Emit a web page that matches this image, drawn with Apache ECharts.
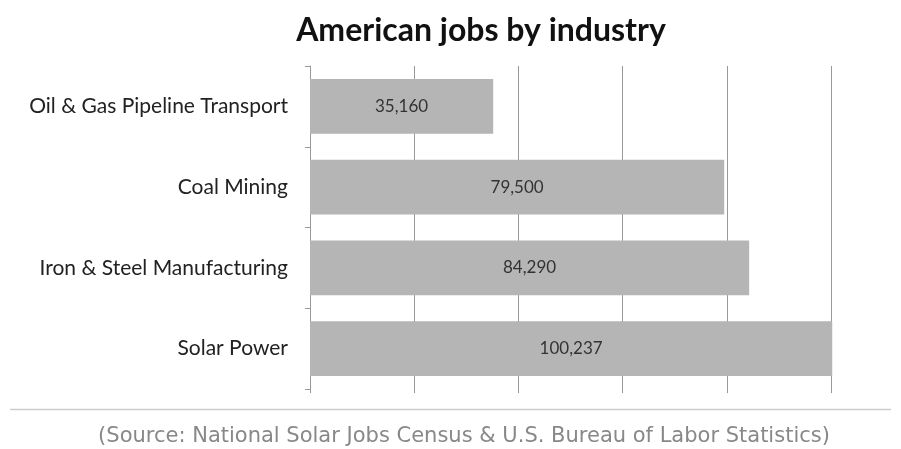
<!DOCTYPE html>
<html>
<head>
<meta charset="utf-8">
<script src="https://cdn.jsdelivr.net/npm/echarts@6/dist/echarts.min.js"></script>
<style>html,body{margin:0;padding:0;background:#fff;}#c{width:901px;height:449px;}</style>
</head>
<body>
<div id="c"></div>
<script>
const categories = ["Oil & Gas Pipeline Transport", "Coal Mining", "Iron & Steel Manufacturing", "Solar Power"];
const jobs = [35160, 79500, 84290, 100237];
const titleText = "American jobs by industry";
const sourceText = "(Source: National Solar Jobs Census & U.S. Bureau of Labor Statistics)";

const chart = echarts.init(document.getElementById('c'));
chart.setOption({
  animation: false,
  backgroundColor: '#fff',
  grid: { left: 310, right: 70, top: 66, bottom: 60, containLabel: false },
  xAxis: {
    type: 'value', min: 0, max: 100000, interval: 20000,
    axisLine: { show: false },
    axisTick: { show: true, length: 4, lineStyle: { color: '#999' } },
    axisLabel: { show: false },
    splitLine: { show: true, lineStyle: { color: '#999', width: 1 } }
  },
  yAxis: {
    type: 'category', data: categories, inverse: true,
    axisLine: { show: true, lineStyle: { color: '#999', width: 1 } },
    axisTick: { show: true, length: 5, lineStyle: { color: '#999' } },
    axisLabel: { color: '#222', fontFamily: 'Lato', fontSize: 21, margin: 22 }
  },
  series: [{
    type: 'bar', data: jobs, barCategoryGap: '32%', clip: false,
    itemStyle: { color: '#b5b5b5' },
    label: {
      show: true, position: 'inside', color: '#333', fontFamily: 'Lato', fontSize: 17,
      formatter: p => p.value.toLocaleString('en-US')
    }
  }],
  graphic: [
    { type: 'text', x: 481, y: 31, style: { text: titleText, fontFamily: 'Lato', fontWeight: 'bold', fontSize: 32, fill: '#111', textAlign: 'center', textVerticalAlign: 'middle' } },
    { type: 'line', shape: { x1: 10, y1: 409.5, x2: 891, y2: 409.5 }, style: { stroke: '#ccc', lineWidth: 1.5 } },
    { type: 'text', x: 464, y: 437, style: { text: sourceText, fontFamily: 'DejaVu Sans', fontSize: 21, fill: '#888', textAlign: 'center', textVerticalAlign: 'middle' } }
  ]
});
</script>
</body>
</html>
